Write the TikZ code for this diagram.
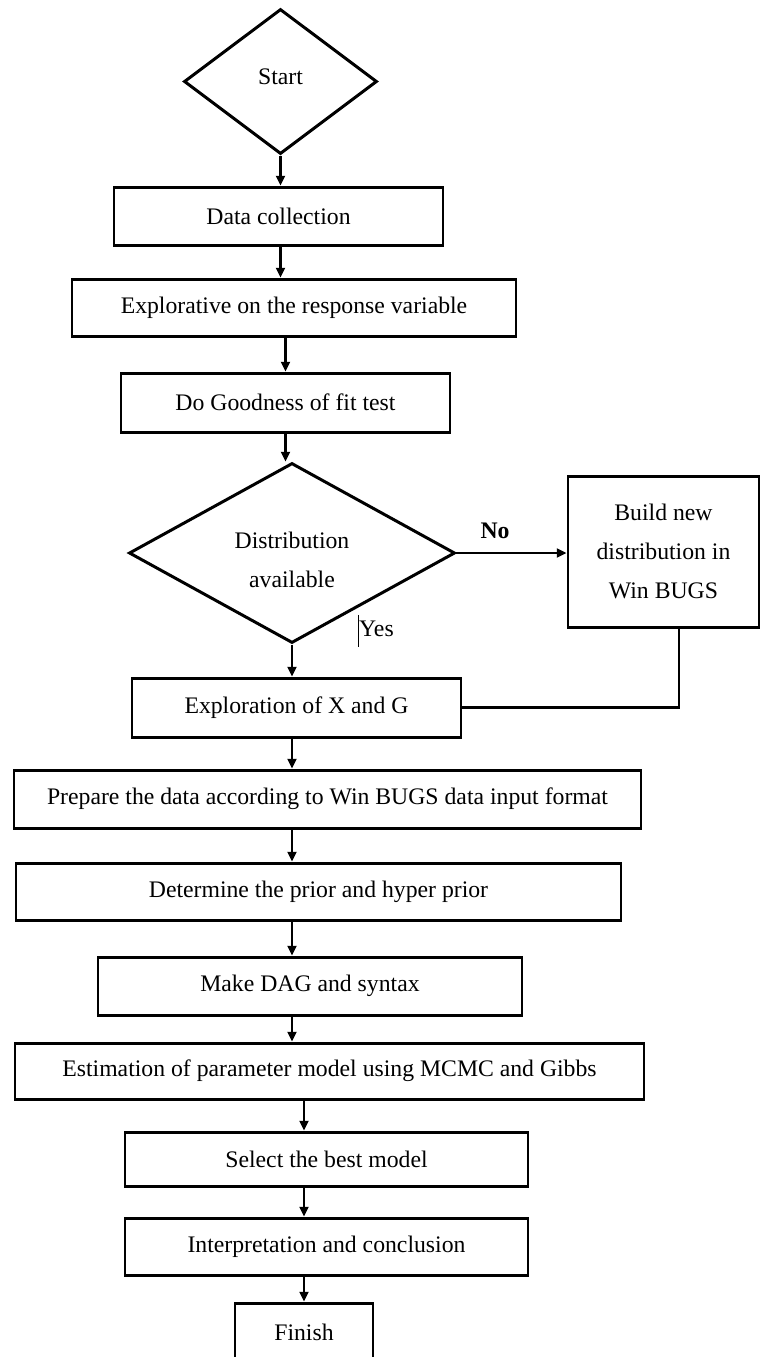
\documentclass[tikz,border=0pt]{standalone}
\usepackage{fontspec}
\setmainfont{Liberation Serif}
\usetikzlibrary{shapes.geometric,arrows.meta}

\begin{document}
\begin{tikzpicture}[x=0.02cm,y=-0.02cm,
  every node/.style={font=\fontsize{13.5}{22}\selectfont},
  wh/.style 2 args={minimum width=#1*0.02cm, minimum height=#2*0.02cm},
  box/.style={draw, line width=1.7pt, inner sep=0pt, align=center},
  dia/.style={draw, diamond, line width=1.7pt, inner sep=0pt, align=center},
  arr/.style={line width=1.4pt, -{Triangle[length=5.5pt,width=5pt]}},
  link/.style={line width=1.4pt}]

% page
\path[use as bounding box, fill=white] (0,0) rectangle (761,1357);

% steps of the flow chart
\node[dia, wh={193}{145}, label={[yshift=0.1cm]center:Start}] (start) at (280.5,81.5) {};
\node[box, wh={329}{58}]  (data)  at (278.5,216)  {Data collection};
\node[box, wh={444}{57}]  (expl)  at (294,307.5)  {Explorative on the response variable};
\node[box, wh={329}{59}]  (good)  at (285.5,402.5) {Do Goodness of fit test};
\node[dia, wh={326}{180}, label={[align=center, yshift=-0.14cm]center:Distribution\\available}] (dist) at (292,553) {};
\node[box, wh={191}{151}] (build) at (663.5,551.5) {Build new\\distribution in\\Win BUGS};
\node[box, wh={329}{59}]  (xg)    at (296.5,707.5) {Exploration of X and G};
\node[box, wh={627}{58}]  (prep)  at (327.5,799)  {Prepare the data according to Win BUGS data input format};
\node[box, wh={605}{57}]  (det)   at (318.5,891.5) {Determine the prior and hyper prior};
\node[box, wh={424}{58}]  (dag)   at (310,986)    {Make DAG and syntax};
\node[box, wh={629}{56}]  (est)   at (329.5,1071) {Estimation of parameter model using MCMC and Gibbs};
\node[box, wh={403}{54}]  (sel)   at (326.5,1159) {Select the best model};
\node[box, wh={403}{57}]  (intp)  at (326.5,1246.5) {Interpretation and conclusion};
\node[box, wh={138}{59}]  (fin)   at (304,1332.5) {Finish};

% branch labels
\node[font=\fontsize{13.5}{22}\selectfont\bfseries] (no) at (495,531) {No};
\node[inner sep=0pt, text height=12pt, text depth=6pt] (yes) at (376.5,631) {Yes};
\draw[line width=0.6pt] (yes.north west) -- (yes.south west);

% connectors
\draw[arr] (start.south) -- (data.north -| start.south);
\draw[arr] (data.south -| start.south) -- (expl.north -| start.south);
\draw[arr] (expl.south -| good.north) -- (good.north);
\draw[arr] (good.south) -- (good.south |- dist.north);
\draw[arr] (dist.east) -- (build.west |- dist.east);
\draw[link] ([xshift=0.31cm]build.south) |- (xg.east);
\draw[arr] (dist.south) -- (xg.north -| dist.south);
\draw[arr] (xg.south -| dist.south) -- (prep.north -| dist.south);
\draw[arr] (prep.south -| dist.south) -- (det.north -| dist.south);
\draw[arr] (det.south -| dist.south) -- (dag.north -| dist.south);
\draw[arr] (dag.south -| dist.south) -- (est.north -| dist.south);
\draw[arr] (est.south -| fin.north) -- (sel.north -| fin.north);
\draw[arr] (sel.south -| fin.north) -- (intp.north -| fin.north);
\draw[arr] (intp.south -| fin.north) -- (fin.north);
\end{tikzpicture}
\end{document}
